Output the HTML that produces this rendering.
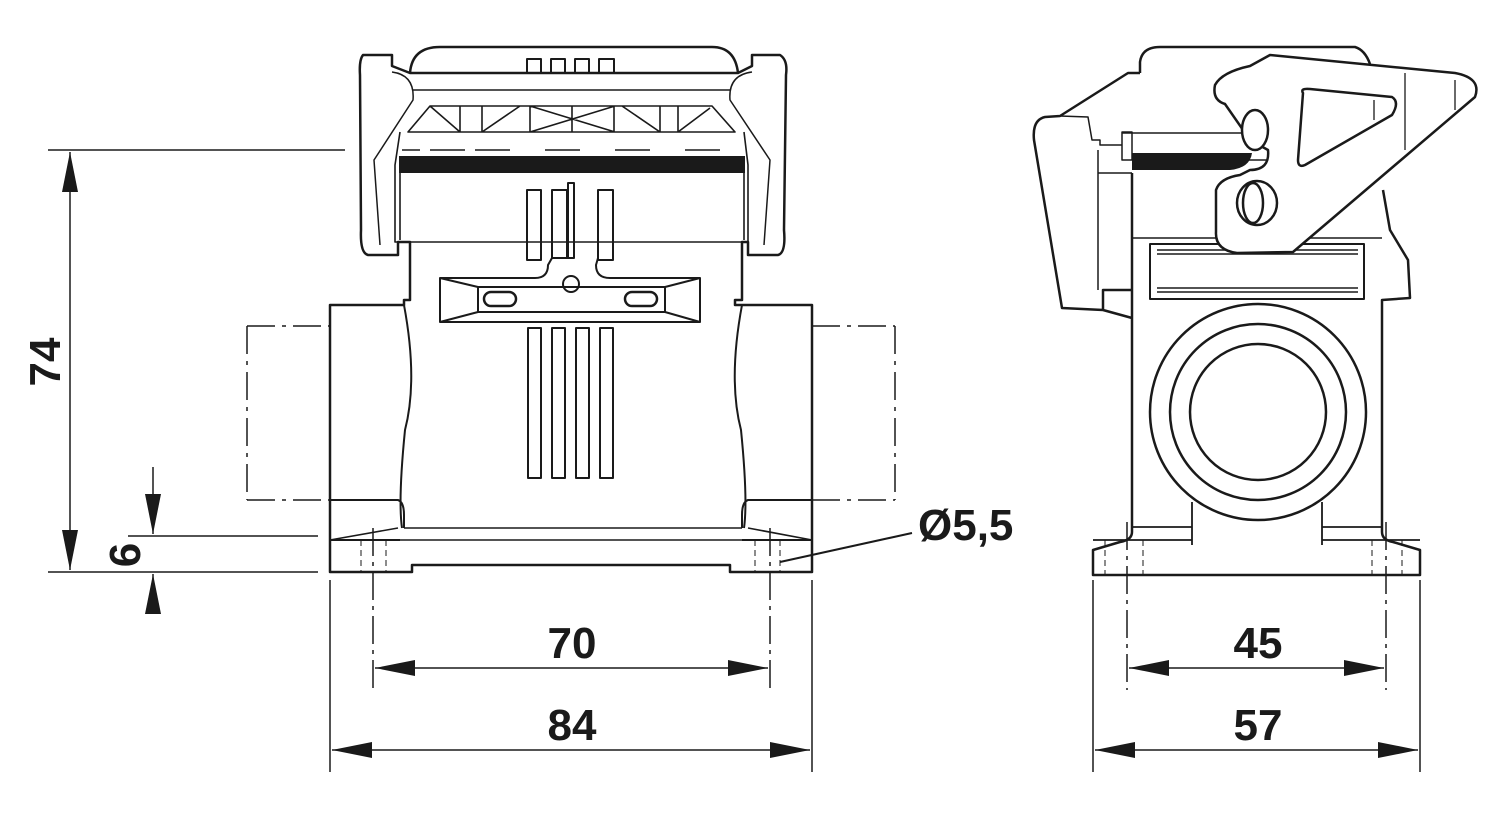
<!DOCTYPE html>
<html><head><meta charset="utf-8"><style>html,body{margin:0;padding:0;background:#fff}svg{display:block}text{font-family:"Liberation Sans",sans-serif;font-weight:bold;font-size:44px;fill:#1a1a1a}</style></head>
<body>
<svg width="1500" height="820" viewBox="0 0 1500 820" xmlns="http://www.w3.org/2000/svg">
<defs>
<marker id="a" viewBox="0 0 40 16" refX="40" refY="8" markerWidth="40" markerHeight="16" markerUnits="userSpaceOnUse" orient="auto-start-reverse"><path d="M0,0L40,8L0,16z" fill="#1a1a1a"/></marker>
</defs>
<g fill="none" stroke="#1a1a1a" stroke-width="2.5" stroke-linejoin="round">
<!-- LEFT VIEW -->
<path d="M410,73 Q412,47 440,47 L712,47 Q735,47 738,73"/>
<path d="M527,72v-13h14v13M551,72v-13h14v13M575,72v-13h14v13M599,72v-13h15v13" stroke-width="2"/>
<path d="M363,55 L392,55 L392,66 L410,73 L738,73 L752,66 L752,55 L780,55 Q788,60 786,75 L784,230 Q786,253 778,255 L748,255 L748,242 L742,242 L742,300 L735,300 L735,305 L812,305 L812,572 L770,572 L730,572 L730,565 L412,565 L412,572 L330,572 L330,305 L404,305 L404,300 L410,300 L410,242 L398,242 L398,255 L368,255 Q360,253 361,230 L360,75 Q359,60 363,55Z"/>
<path d="M392,72 Q415,75 413,100 L374,160 L380,245 M752,72 Q728,75 730,100 L770,160 L764,245" stroke-width="1.5"/>
<path d="M413,90 L730,90" stroke-width="1.5"/>
<path d="M430,106 L712,106 L735,132 L408,132Z M460,106v26 M482,106v26 M530,106v26 M572,106v26 M614,106v26 M660,106v26 M678,106v26 M430,106 L460,132 M482,132 L520,106 M530,106 L615,132 M530,132 L615,106 M622,106 L660,132 M678,132 L710,108" stroke-width="1.6"/>
<path d="M400,132 L395,165 L395,242 L748,242 L748,165 L744,132" stroke-width="1.6"/>
<path d="M402,150h18 M430,150h35 M475,150h35 M545,150h35 M615,150h35 M685,150h35" stroke-width="1.6"/>
<rect x="399" y="156" width="346" height="17" fill="#1a1a1a" stroke="none"/>
<path d="M400,173 L400,240 M744,173 L744,240" stroke-width="1.6"/>
<path d="M527,260v-70h14v70z M552,258v-68h15v68z M598,260v-70h15v70z M568,258v-75h6v75z" stroke-width="2"/>
<path d="M552,258 L548,265 Q548,278 535,278 L440,278 L440,322 L700,322 L700,278 L610,278 Q596,278 596,265 L598,258" stroke-width="2"/>
<path d="M478,287 L665,287 L665,312 L478,312Z M440,278 L478,287 M440,322 L478,312 M700,278 L665,287 M700,322 L665,312" stroke-width="2"/>
<circle cx="571" cy="284" r="8" stroke-width="2"/>
<rect x="484" y="292" width="32" height="14" rx="7"/><rect x="625" y="292" width="32" height="14" rx="7"/>
<rect x="528" y="328" width="13" height="150" stroke-width="2"/><rect x="552" y="328" width="13" height="150" stroke-width="2"/><rect x="576" y="328" width="13" height="150" stroke-width="2"/><rect x="600" y="328" width="13" height="150" stroke-width="2"/>
<path d="M404,305 Q418,380 405,430 Q398,500 402,528 M742,305 Q728,380 741,430 Q748,500 744,528" stroke-width="2"/>
<path d="M330,500 L398,500 Q404,502 404,515 L404,528 M812,500 L748,500 Q742,502 742,515 L742,528" stroke-width="2"/>
<path d="M330,540 L398,528 M812,540 L748,528 M404,528 L742,528 M398,540 L748,540" stroke-width="1.6"/>
<path d="M330,540 L400,540 M742,540 L812,540" stroke-width="2"/>
<path d="M361,540v32 M386,540v32 M755,540v32 M780,540v32" stroke-width="1" stroke-dasharray="6 4"/>
<path d="M247,326 L330,326 M812,326 L895,326 M247,500 L330,500 M812,500 L895,500 M247,326 L247,500 M895,326 L895,500" stroke-width="1.5" stroke-dasharray="28 7 4 7"/>
<path d="M373,528 L373,690 M770,528 L770,690" stroke-width="1.5" stroke-dasharray="28 6 4 6"/>
<path d="M48,150 L345,150 M48,572 L318,572 M128,536 L318,536 M330,580 L330,772 M812,580 L812,772" stroke-width="1.5"/>
<path d="M70,152 L70,570" stroke-width="1.5" marker-start="url(#a)" marker-end="url(#a)"/>
<path d="M153,467 L153,534" stroke-width="1.5" marker-end="url(#a)"/>
<path d="M153,612 L153,574" stroke-width="1.5" marker-end="url(#a)"/>
<path d="M375,668 L768,668" stroke-width="1.5" marker-start="url(#a)" marker-end="url(#a)"/>
<path d="M332,750 L810,750" stroke-width="1.5" marker-start="url(#a)" marker-end="url(#a)"/>
<path d="M780,562 L912,533" stroke-width="2"/>
<!-- RIGHT VIEW -->
<path d="M1140,73 L1140,62 Q1142,47 1160,47 L1355,47 Q1365,50 1370,64" />
<path d="M1140,73 L1128,73 L1060,116 L1045,117 Q1032,120 1034,140 L1062,308 L1103,310 L1103,290 L1132,290 M1103,310 L1132,318" />
<path d="M1060,116 L1088,117 L1092,140 L1100,140 L1100,145 L1122,145 L1122,160 L1132,160 L1132,132 L1122,132 L1122,145 M1098,173 L1132,173 M1098,150 L1098,290" stroke-width="1.5"/>
<path d="M1132,173 L1132,532 Q1132,540 1120,542 L1093,550 L1093,575 L1420,575 L1420,550 L1393,542 Q1382,540 1382,532 L1382,300 L1410,298 L1408,260 L1390,230 L1383,190" />
<path d="M1122,133 L1252,133 M1298,133 L1365,133 M1132,160 L1350,160 L1340,170 L1300,170" stroke-width="1.6"/>
<path d="M1132,153 L1252,153 Q1250,168 1230,170 L1132,170Z" fill="#1a1a1a" stroke="none"/>
<path d="M1300,168 L1340,168 L1345,158 L1300,158Z" fill="#1a1a1a" stroke="none"/>
<path d="M1132,238 L1382,238" stroke-width="1.6"/>
<rect x="1150" y="244" width="214" height="55" stroke-width="2"/>
<path d="M1157,250 L1358,250 M1157,292 L1358,292 M1157,254 L1358,254 M1157,288 L1358,288" stroke-width="1.5"/>
<path d="M1270,55 L1455,73 Q1482,78 1475,97 L1293,252 L1237,253 Q1215,250 1216,232 L1216,190 Q1220,178 1240,175 L1250,170 Q1270,170 1268,150 L1250,140 L1225,104 Q1212,100 1215,85 Q1222,72 1250,66Z" fill="#fff"/>
<path d="M1303,93 Q1300,88 1310,89 L1392,97 Q1400,102 1392,115 L1305,165 Q1298,168 1298,160 Z" fill="#fff"/>
<ellipse cx="1255" cy="130" rx="13" ry="20" fill="#fff"/>
<ellipse cx="1257" cy="203" rx="20" ry="22"/><ellipse cx="1253" cy="203" rx="10" ry="20"/>
<path d="M1405,73 L1405,150 M1455,80 L1455,110 M1374,100 L1374,120" stroke-width="1.3"/>
<circle cx="1258" cy="412" r="108"/><circle cx="1258" cy="412" r="88"/><circle cx="1258" cy="412" r="68"/>
<path d="M1192,502 L1192,545 M1322,502 L1322,545 M1132,527 L1192,527 M1322,527 L1382,527 M1093,540 L1192,540 M1322,540 L1420,540" stroke-width="1.8"/>
<path d="M1105,540v35 M1143,540v35 M1372,540v35 M1402,540v35" stroke-width="1" stroke-dasharray="6 4"/>
<path d="M1127,522 L1127,690 M1386,522 L1386,690" stroke-width="1.5" stroke-dasharray="28 6 4 6"/>
<path d="M1093,580 L1093,772 M1420,580 L1420,772" stroke-width="1.5"/>
<path d="M1129,668 L1384,668" stroke-width="1.5" marker-start="url(#a)" marker-end="url(#a)"/>
<path d="M1095,750 L1418,750" stroke-width="1.5" marker-start="url(#a)" marker-end="url(#a)"/>
</g>
<text x="572" y="658" text-anchor="middle">70</text>
<text x="572" y="740" text-anchor="middle">84</text>
<text x="1258" y="658" text-anchor="middle">45</text>
<text x="1258" y="740" text-anchor="middle">57</text>
<text x="918" y="540">Ø5,5</text>
<text transform="translate(60,362) rotate(-90)" text-anchor="middle">74</text>
<text transform="translate(140,555) rotate(-90)" text-anchor="middle">6</text>
</svg>
</body></html>
